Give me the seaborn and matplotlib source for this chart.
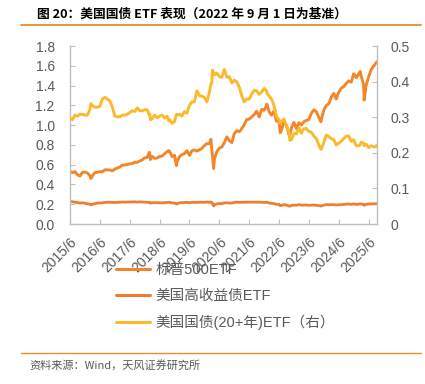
import numpy as np
import pandas as pd
import matplotlib
matplotlib.use("Agg")
import matplotlib.pyplot as plt
import seaborn as sns
from matplotlib.ticker import FuncFormatter
from matplotlib.lines import Line2D

# ---------------- data ----------------
# monthly points (first trading day of each month), 2015/6 .. 2025/9
month_start = "2015-06-01"
n_months = 124

sp500 = [0.533,
    0.518, 0.530, 0.497, 0.485, 0.523, 0.525, 0.515,
    0.487, 0.487, 0.520, 0.523, 0.530, 0.528, 0.548, 0.548, 0.545, 0.538, 0.556, 0.566,
    0.576, 0.596, 0.596, 0.601, 0.609, 0.611, 0.624, 0.624, 0.636, 0.649, 0.669, 0.674,
    0.712, 0.684, 0.664, 0.667, 0.682, 0.687, 0.710, 0.732, 0.735, 0.682, 0.694, 0.631,
    0.682, 0.702, 0.712, 0.742, 0.694, 0.740, 0.750, 0.737, 0.750, 0.765, 0.793, 0.813,
    0.811, 0.747, 0.652, 0.732, 0.768, 0.778, 0.823, 0.881, 0.843, 0.823, 0.914, 0.944,
    0.934, 0.962, 1.003, 1.056, 1.061, 1.081, 1.106, 1.141, 1.083, 1.159, 1.149, 1.199,
    1.134, 1.101, 1.141, 1.040, 1.040, 0.952, 1.038, 0.997, 0.902, 0.975, 1.028, 0.965,
    1.025, 1.000, 1.033, 1.048, 1.056, 1.119, 1.154, 1.136, 1.078, 1.056, 1.152, 1.199,
    1.217, 1.283, 1.321, 1.265, 1.331, 1.374, 1.389, 1.422, 1.447, 1.434, 1.520, 1.480,
    1.518, 1.500, 1.412, 1.399, 1.487, 1.558, 1.596, 1.629]

high_yield = [0.229,
    0.225, 0.222, 0.217, 0.211, 0.215, 0.210, 0.204,
    0.199, 0.199, 0.206, 0.212, 0.212, 0.214, 0.218, 0.220, 0.220, 0.218, 0.217, 0.218,
    0.220, 0.222, 0.221, 0.222, 0.223, 0.223, 0.224, 0.222, 0.224, 0.223, 0.221, 0.220,
    0.218, 0.215, 0.216, 0.215, 0.215, 0.214, 0.216, 0.217, 0.218, 0.213, 0.212, 0.205,
    0.214, 0.216, 0.217, 0.219, 0.215, 0.219, 0.218, 0.219, 0.219, 0.220, 0.219, 0.222,
    0.220, 0.216, 0.194, 0.203, 0.207, 0.206, 0.213, 0.215, 0.212, 0.211, 0.219, 0.221,
    0.219, 0.220, 0.220, 0.221, 0.221, 0.221, 0.221, 0.221, 0.221, 0.220, 0.217, 0.220,
    0.212, 0.208, 0.207, 0.198, 0.199, 0.186, 0.196, 0.192, 0.182, 0.188, 0.191, 0.190,
    0.196, 0.191, 0.191, 0.192, 0.189, 0.191, 0.192, 0.189, 0.186, 0.183, 0.191, 0.196,
    0.195, 0.196, 0.196, 0.192, 0.195, 0.195, 0.198, 0.201, 0.202, 0.199, 0.203, 0.198,
    0.201, 0.203, 0.198, 0.198, 0.202, 0.203, 0.204, 0.205]

treasury_20y = [0.298,
    0.293, 0.306, 0.303, 0.308, 0.308, 0.306, 0.306,
    0.323, 0.333, 0.328, 0.328, 0.331, 0.351, 0.356, 0.351, 0.346, 0.328, 0.303, 0.301,
    0.301, 0.306, 0.306, 0.308, 0.313, 0.318, 0.316, 0.326, 0.318, 0.318, 0.321, 0.321,
    0.308, 0.295, 0.306, 0.298, 0.303, 0.306, 0.298, 0.303, 0.293, 0.283, 0.288, 0.306,
    0.308, 0.303, 0.316, 0.311, 0.333, 0.343, 0.343, 0.374, 0.361, 0.359, 0.356, 0.343,
    0.371, 0.396, 0.419, 0.424, 0.414, 0.412, 0.434, 0.412, 0.414, 0.396, 0.404, 0.399,
    0.384, 0.361, 0.343, 0.351, 0.351, 0.364, 0.376, 0.374, 0.364, 0.371, 0.381, 0.374,
    0.359, 0.351, 0.333, 0.303, 0.293, 0.288, 0.295, 0.275, 0.258, 0.237, 0.255, 0.253,
    0.270, 0.255, 0.268, 0.268, 0.260, 0.258, 0.247, 0.240, 0.222, 0.210, 0.230, 0.250,
    0.245, 0.240, 0.237, 0.222, 0.227, 0.232, 0.240, 0.247, 0.247, 0.232, 0.237, 0.220,
    0.220, 0.230, 0.227, 0.225, 0.215, 0.220, 0.217, 0.217]

# extra intra-month observations (highs / lows)
extra_dates = ["2016-02-11", "2018-01-26", "2018-02-08", "2018-09-20", "2018-12-24",
               "2020-02-19", "2020-03-09", "2020-03-23", "2022-01-03", "2022-06-16",
               "2022-10-12", "2023-10-27", "2025-02-19", "2025-04-08", "2025-09-10"]
extra_sp500 = [0.460, 0.725, 0.652, 0.741, 0.591, 0.856, 0.693, 0.561, 1.212, 0.924,
               0.900, 1.035, 1.543, 1.253, 1.641]
extra_high_yield = [0.194, 0.219, 0.212, 0.219, 0.202, 0.222, 0.207, 0.182, 0.220, 0.185,
                    0.180, 0.181, 0.204, 0.189, 0.205]
extra_treasury_20y = [0.338, 0.306, 0.293, 0.290, 0.308, 0.394, 0.432, 0.424, 0.368, 0.283,
                      0.235, 0.210, 0.222, 0.220, 0.222]

labels = ["标普500ETF", "美国高收益债ETF", "美国国债(20+年)ETF（右）"]
xtick_years = list(range(2015, 2026))
left_ticks = [0.0, 0.2, 0.4, 0.6, 0.8, 1.0, 1.2, 1.4, 1.6, 1.8]
right_ticks = [0.0, 0.1, 0.2, 0.3, 0.4, 0.5]

title = "图 20：美国国债 ETF 表现（2022 年 9 月 1 日为基准）"
source = "资料来源：Wind，天风证券研究所"

# ---------------- build frame ----------------
df = pd.DataFrame({
    "date": list(pd.date_range(month_start, periods=n_months, freq="MS")) + list(pd.to_datetime(extra_dates)),
    "sp500": sp500 + extra_sp500,
    "hy": high_yield + extra_high_yield,
    "tlt": treasury_20y + extra_treasury_20y,
}).sort_values("date").reset_index(drop=True)

# ---------------- style ----------------
sns.set_style("white")
plt.rcParams["font.family"] = ["Liberation Sans", "Noto Sans CJK SC", "DejaVu Sans"]

c_sp = "#F4862A"
c_hy = "#EE7D33"
c_tlt = "#FBBA2C"
gray_axis = "#BFBFBF"
gray_text = "#595959"
orange_rule = "#F08A24"

fig = plt.figure(figsize=(4.25, 3.84), dpi=100)
ax = fig.add_axes([70 / 425, 1 - 224 / 384, (377 - 70) / 425, (224 - 46) / 384])
ax2 = ax.twinx()

sns.lineplot(data=df, x="date", y="sp500", ax=ax, color=c_sp, linewidth=2.1, legend=False)
sns.lineplot(data=df, x="date", y="hy", ax=ax, color=c_hy, linewidth=2.0, legend=False)
sns.lineplot(data=df, x="date", y="tlt", ax=ax2, color=c_tlt, linewidth=2.1, legend=False)

ax.set_xlim(pd.Timestamp("2015-06-01"), pd.Timestamp("2025-09-12"))
ax.set_ylim(0, 1.8)
ax2.set_ylim(0, 0.5)
ax.set_yticks(left_ticks)
ax2.set_yticks(right_ticks)
ax.yaxis.set_major_formatter(FuncFormatter(lambda v, p: f"{v:.1f}"))
ax2.yaxis.set_major_formatter(FuncFormatter(lambda v, p: "0" if abs(v) < 1e-9 else f"{v:.1f}"))

xt = [pd.Timestamp(f"{y}-06-01") for y in xtick_years]
ax.set_xticks(xt)
ax.set_xticklabels([f"{y}/6" for y in xtick_years], rotation=45, ha="right", va="top",
                   rotation_mode="anchor")

for a in (ax, ax2):
    a.set_xlabel("")
    a.set_ylabel("")
    a.grid(False)
    for s in a.spines.values():
        s.set_color(gray_axis)
        s.set_linewidth(1.0)
    a.spines["top"].set_visible(False)
ax.spines["right"].set_visible(False)
ax2.spines["left"].set_visible(False)
ax2.spines["bottom"].set_visible(False)

ax.tick_params(axis="y", direction="in", length=3.5, color=gray_axis, labelcolor=gray_text,
               labelsize=10, pad=11, left=True)
ax.tick_params(axis="x", direction="in", length=3.5, color=gray_axis, labelcolor=gray_text,
               labelsize=10, pad=8, bottom=True)
ax2.tick_params(axis="y", direction="in", length=3.5, color=gray_axis, labelcolor=gray_text,
                labelsize=10, pad=10, right=True)

handles = [Line2D([], [], color=c_sp, lw=2.2),
           Line2D([], [], color=c_hy, lw=2.2),
           Line2D([], [], color=c_tlt, lw=2.2)]
leg = fig.legend(handles, labels, loc="upper left", bbox_to_anchor=(116 / 425, 1 - 263 / 384),
                 frameon=False, fontsize=10.5, handlelength=2.3, handletextpad=0.4,
                 labelspacing=0.8, borderpad=0, borderaxespad=0)
for t in leg.get_texts():
    t.set_color(gray_text)

fig.text(37 / 425, 1 - 14 / 384, title, ha="left", va="center", fontsize=9.2, fontweight="bold",
         color="black", family=["Noto Sans CJK SC", "DejaVu Sans"])
fig.add_artist(Line2D([21 / 425, 421 / 425], [1 - 24.5 / 384, 1 - 24.5 / 384], color=orange_rule, lw=1.3))
fig.add_artist(Line2D([21 / 425, 421 / 425], [1 - 352.5 / 384, 1 - 352.5 / 384], color=orange_rule, lw=1.0))
fig.text(29 / 425, 1 - 365 / 384, source, ha="left", va="center", fontsize=8, color=gray_text,
         family=["Noto Sans CJK SC", "DejaVu Sans"])

fig.savefig("out.png", dpi=100)
